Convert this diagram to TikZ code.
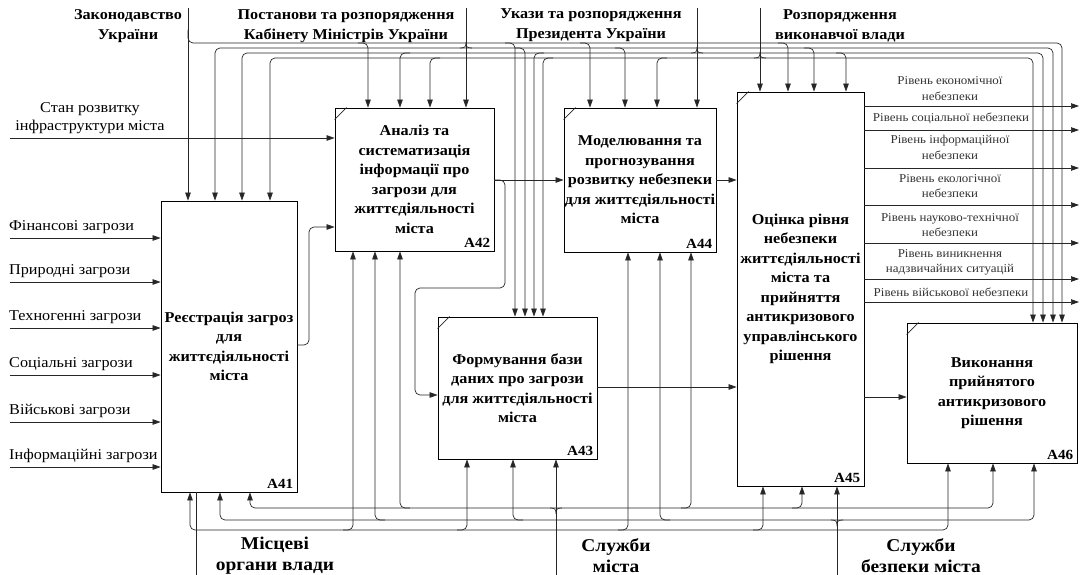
\documentclass[tikz,border=0pt]{standalone}
\usepackage{fontspec}
\setmainfont{Liberation Serif}[FakeStretch=1.08]
\usepackage{tikz}
\usetikzlibrary{arrows.meta}

\tikzset{
  blok/.style={draw, line width=0.8pt, align=center, inner sep=0pt,
    font=\bfseries\fontsize{15}{19.5}\selectfont},
  nomer/.style={anchor=south east, inner sep=4pt, font=\bfseries\fontsize{14}{14}\selectfont},
  liniya/.style={line width=0.7pt, draw=black!85},
  strilka/.style={liniya, -{Triangle[length=8pt,width=5.5pt]}},
  dvistrilka/.style={liniya, {Triangle[length=8pt,width=5.5pt]}-{Triangle[length=8pt,width=5.5pt]}},
  vhid/.style={anchor=base west, inner sep=0pt, font=\fontsize{15}{18}\selectfont},
  vyhid/.style={align=center, inner sep=0pt, text=black!80, font=\fontsize{12}{15.5}\selectfont},
  dzherelo/.style={align=center, inner sep=0pt, font=\bfseries\fontsize{15}{20}\selectfont},
  mekh/.style={align=center, inner sep=0pt, font=\bfseries\fontsize{18}{21}\selectfont},
}

\begin{document}
\begin{tikzpicture}[x=1pt,y=1pt,yscale=-1]
        \useasboundingbox (0,0) rectangle (1080,575);

        % Boxes
        \node[blok, minimum width=136, minimum height=291] (A41) at (229,346.5) {Реєстрація загроз\\для\\життєдіяльності\\міста};
        \node[blok, minimum width=159, minimum height=143] (A42) at (414.5,179.5) {Аналіз та\\систематизація\\інформації про\\загрози для\\життєдіяльності\\міста};
        \node[blok, minimum width=159, minimum height=142] (A43) at (517.5,388) {Формування бази\\даних про загрози\\для життєдіяльності\\міста};
        \node[blok, minimum width=152, minimum height=144] (A44) at (640,180) {Моделювання та\\прогнозування\\розвитку небезпеки\\для життєдіяльності\\міста};
        \node[blok, minimum width=127, minimum height=394] (A45) at (800.5,289) {Оцінка рівня\\небезпеки\\життєдіяльності\\міста та\\прийняття\\антикризового\\управлінського\\рішення};
        \node[blok, minimum width=170, minimum height=140] (A46) at (992,393) {Виконання\\прийнятого\\антикризового\\рішення};

        \foreach \b in {A41,A42,A43,A44,A45,A46}
            \node[nomer] (n\b) at (\b.south east) {\b};
        \foreach \b in {A42,A43,A44,A45,A46}
            \draw[liniya] (\b.north west) ++(0,12) -- ++(12,-12);

        % Text Node
        \node[dzherelo] (zak) at (128,26) {Законодавство\\України};
        \node[dzherelo] (post) at (346,26) {Постанови та розпорядження\\Кабінету Міністрів України};
        \node[dzherelo] (ukaz) at (591,25) {Укази та розпорядження\\Президента України};
        \node[dzherelo] (rozp) at (840,26) {Розпорядження\\виконавчої влади};
        \node[mekh] (mist) at (275,556) {Місцеві\\органи влади};
        \node[mekh] (sluzh) at (616,556) {Служби\\міста};
        \node[mekh] (bezp) at (921,556) {Служби\\безпеки міста};

        %Straight Lines (sources of control)
        \draw[strilka] (188,8) -- (188,0 |- A41.north);
        \draw[strilka] (466,8) -- (466,0 |- A42.north);
        \draw[strilka] (697,8) -- (697,0 |- A44.north);
        \draw[strilka] (760,8) -- (760,0 |- A45.north);
        \foreach \x/\y in {466/48,697/53,760/58}
            \draw[liniya] (\x-6,\y) .. controls (\x-1,\y) and (\x,\y-1) .. (\x,\y-6) .. controls (\x,\y-1) and (\x+1,\y) .. (\x+6,\y);

        % control buses
        \draw[strilka, rounded corners=5] (188,30) |- (1062,43) -- (1062,0 |- A46.north);
        \draw[dvistrilka, rounded corners=5] (215,0 |- A41.north) |- (1053,48) -- (1053,0 |- A46.north);
        \draw[dvistrilka, rounded corners=5] (242,0 |- A41.north) |- (1043,53) -- (1043,0 |- A46.north);
        \draw[dvistrilka, rounded corners=5] (270,0 |- A41.north) |- (1033,58) -- (1033,0 |- A46.north);
        \foreach \x/\b in {368/A42,515/A43,590/A44,788/A45}
            \draw[strilka, rounded corners=5] (\x-10,43) -| (\x,0 |- \b.north);
        \foreach \x/\b in {525/A43,625/A44,814/A45}
            \draw[strilka, rounded corners=5] (\x-10,48) -| (\x,0 |- \b.north);
        \foreach \x/\b in {400/A42,534/A43}
            \draw[strilka, rounded corners=5] (\x+10,53) -| (\x,0 |- \b.north);
        \draw[strilka, rounded corners=5] (836,53) -| (846,0 |- A45.north);
        \foreach \x/\b in {430/A42,543/A43,657/A44}
            \draw[strilka, rounded corners=5] (\x+10,58) -| (\x,0 |- \b.north);

        %Straight Lines (mechanisms)
        \draw[liniya] (196,575) -- (196,0 |- A41.south);
        \draw[strilka] (556,575) -- (556,0 |- A43.south);
        \draw[strilka] (837,575) -- (837,0 |- A45.south);
        \foreach \x/\y in {556/508,837/520}
            \draw[liniya] (\x-6,\y) .. controls (\x-1,\y) and (\x,\y+1) .. (\x,\y+6) .. controls (\x,\y+1) and (\x+1,\y) .. (\x+6,\y);
        \draw[dvistrilka, rounded corners=5] (190,0 |- A41.south) |- (948,530) -- (948,0 |- A46.south);
        \draw[dvistrilka, rounded corners=5] (250,0 |- A41.south) |- (993,508) -- (993,0 |- A46.south);
        \draw[dvistrilka, rounded corners=5] (220,0 |- A41.south) |- (1034,520) -- (1034,0 |- A46.south);
        \foreach \x/\b in {353/A42,467/A43,628/A44,763/A45}
            \draw[strilka, rounded corners=5] (\x-10,530) -| (\x,0 |- \b.south);
        \draw[strilka, rounded corners=5] (410,508) -| (400,0 |- A42.south);
        \foreach \x/\b in {691/A44,802/A45}
            \draw[strilka, rounded corners=5] (\x-10,508) -| (\x,0 |- \b.south);
        \foreach \x/\b in {375/A42,513/A43,660/A44}
            \draw[strilka, rounded corners=5] (\x+10,520) -| (\x,0 |- \b.south);

        %Straight Lines (inputs)
        \draw[strilka] (10,138) -- (A42.west |- 0,138);
        \node[align=center, inner sep=0pt, anchor=south, font=\fontsize{15}{18}\selectfont] (stan) at (90,134) {Стан розвитку\\інфраструктури міста};
        \foreach \y/\t [count=\i] in {238/Фінансові загрози,282/Природні загрози,328/Техногенні загрози,375/Соціальні загрози,422/Військові загрози,467/Інформаційні загрози}{
            \draw[strilka] (10,\y) -- (A41.west |- 0,\y);
            \node[vhid] (z\i) at (9,\y-8) {\t};
        }

        % flows between boxes
        \draw[strilka, rounded corners=5] (A41.east |- 0,345) -| (309,227) -- (A42.west |- 0,227);
        \draw[strilka] (A42.east |- 0,180) -- (A44.west |- 0,180);
        \draw[strilka, rounded corners=5] (A42.east |- 0,180) -| (505,288) -| (415,395) -- (A43.west |- 0,395);
        \draw[strilka] (A43.east |- 0,387) -- (A45.west |- 0,387);
        \draw[strilka] (A44.east |- 0,180) -- (A45.west |- 0,180);
        \draw[strilka] (A45.east |- 0,397) -- (A46.west |- 0,397);

        %Straight Lines (outputs)
        \foreach \y in {106,130,168,205,243,279,302}
            \draw[strilka] (A45.east |- 0,\y) -- (1079,\y);
        \node[vyhid] (r1) at (950,88.5) {Рівень економічної\\небезпеки};
        \node[vyhid] (r2) at (951,118) {Рівень соціальної небезпеки};
        \node[vyhid] (r3) at (950,147.5) {Рівень інформаційної\\небезпеки};
        \node[vyhid] (r4) at (950,186) {Рівень екологічної\\небезпеки};
        \node[vyhid] (r5) at (950,225) {Рівень науково-технічної\\небезпеки};
        \node[vyhid] (r6) at (950,262.5) {Рівень виникнення\\надзвичайних ситуацій};
        \node[vyhid] (r7) at (951,292) {Рівень військової небезпеки};

\end{tikzpicture}
\end{document}
